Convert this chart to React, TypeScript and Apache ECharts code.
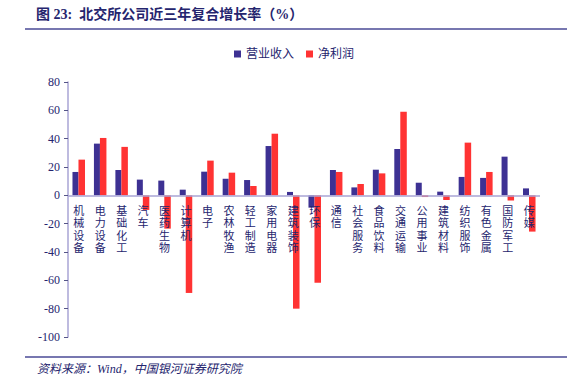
import React, { useEffect, useRef } from "react";
import * as echarts from "echarts";

const categories = ["机械设备","电力设备","基础化工","汽车","医药生物","计算机","电子","农林牧渔","轻工制造","家用电器","建筑装饰","环保","通信","社会服务","食品饮料","交通运输","公用事业","建筑材料","纺织服饰","有色金属","国防军工","传媒"];
const revenue = [16.5,36.5,17.9,11.1,10.4,4.0,16.7,11.7,10.8,34.8,2.4,-8.7,17.9,5.6,18.1,32.7,8.9,2.6,13.0,12.3,27.3,4.9];
const profit = [25.2,40.5,34.2,-10.3,-23.5,-68.9,24.5,16.0,6.6,43.5,-80.0,-61.7,16.5,8.0,15.5,59.0,-1.2,-3.3,37.2,16.5,-3.7,-25.6];
const seriesNames = ["营业收入", "净利润"];
const titleText = "图 23:  北交所公司近三年复合增长率（%）";
const sourceText = "资料来源：Wind，中国银河证券研究院";

const NAVY = "#25256e";
const AXIS = "#a8a4d4";
const FONT = "'Liberation Serif', 'Noto Sans CJK SC', serif";

export default function App() {
  const ref = useRef<HTMLDivElement>(null);
  useEffect(() => {
    if (!ref.current) return;
    const chart = echarts.init(ref.current, undefined, { renderer: "svg" });
    chart.setOption({
      animation: false,
      backgroundColor: "#ffffff",
      textStyle: { fontFamily: FONT },
      graphic: [
        { type: "text", left: 36, top: 7, style: { text: titleText, font: `bold 14px ${FONT}`, fill: NAVY } },
        { type: "line", shape: { x1: 25, y1: 29, x2: 567, y2: 29 }, style: { stroke: "#4a4a96", lineWidth: 1.5 } },
        { type: "line", shape: { x1: 25, y1: 357, x2: 567, y2: 357 }, style: { stroke: "#4a4a96", lineWidth: 1.5 } },
        { type: "text", left: 37, top: 363, style: { text: sourceText, font: `italic 12px ${FONT}`, fill: NAVY } },
      ],
      legend: {
        top: 43,
        left: 229,
        itemWidth: 7,
        itemHeight: 7,
        itemGap: 12,
        icon: "rect",
        textStyle: { color: NAVY, fontSize: 12, fontFamily: FONT },
        data: seriesNames,
      },
      grid: { left: 68, right: 27, top: 82, bottom: 41, containLabel: false, outerBoundsMode: "none" },
      xAxis: {
        type: "category",
        data: categories,
        axisLine: { show: false },
        axisTick: { show: false },
        axisLabel: { show: false },
      },
      yAxis: {
        type: "value",
        min: -100,
        max: 80,
        interval: 20,
        axisLine: { show: true, lineStyle: { color: AXIS, width: 1.5 } },
        axisTick: { show: true, length: 4, lineStyle: { color: "#555588" } },
        splitLine: { show: false },
        axisLabel: { color: NAVY, fontSize: 12, fontFamily: FONT, margin: 8 },
      },
      series: [
        {
          name: seriesNames[0], type: "bar", data: revenue, barWidth: 6, barGap: "0%",
          itemStyle: { color: "#3d3193" },
          markLine: {
            silent: true, symbol: "none", label: { show: false },
            lineStyle: { color: AXIS, width: 1.5, type: "solid" },
            data: [{ yAxis: 0 }],
          },
        },
        { name: seriesNames[1], type: "bar", data: profit, barWidth: 6.5, barGap: "0%", itemStyle: { color: "#ff3333" } },
        {
          name: "labels",
          type: "custom",
          z: 10,
          silent: true,
          data: categories.map((c, i) => [i, 0]),
          renderItem: (params: any, api: any) => {
            const idx = api.value(0);
            const p = api.coord([idx, 0]);
            return {
              type: "text",
              x: p[0],
              y: p[1] + 8,
              style: {
                text: categories[idx].split("").join("\n"),
                font: "11px 'Noto Sans CJK SC', sans-serif",
                lineHeight: 12.5,
                fill: NAVY,
                align: "center",
                verticalAlign: "top",
              },
            };
          },
        },
      ],
    });
    return () => chart.dispose();
  }, []);
  return <div ref={ref} style={{ position: "fixed", left: 0, top: 0, width: 567, height: 378 }} />;
}
